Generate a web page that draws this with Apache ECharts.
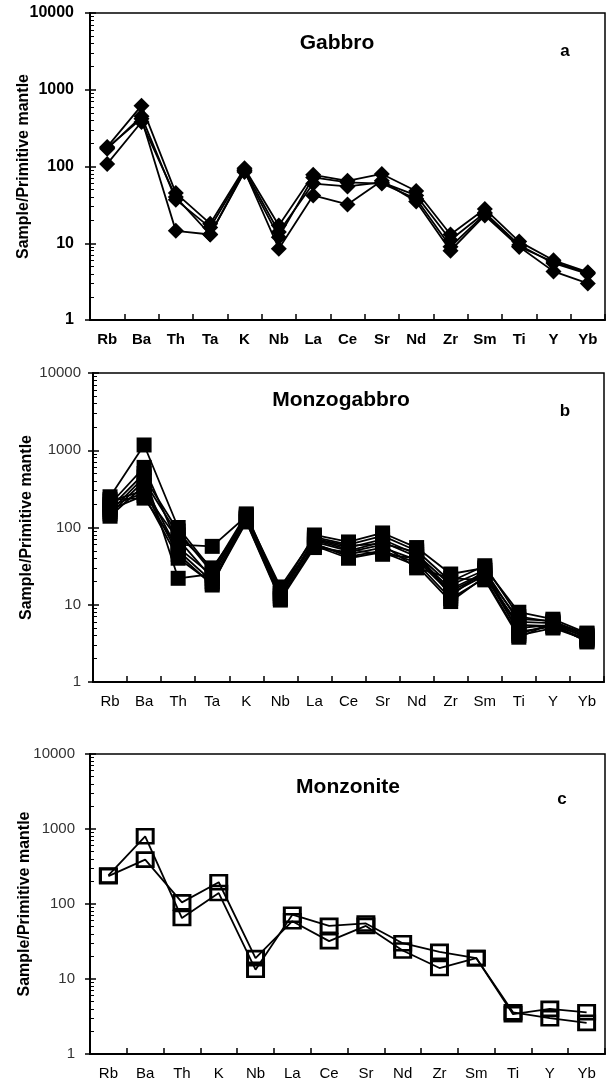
<!DOCTYPE html>
<html>
<head>
<meta charset="utf-8">
<script src="https://cdn.jsdelivr.net/npm/echarts@6/dist/echarts.min.js"></script>
<style>
  html, body { margin: 0; padding: 0; background: #fff; }
  #chart { width: 607px; height: 1080px; }
</style>
</head>
<body>
<div id="chart"></div>
<script>
// Element order on the spider diagrams
const elementsAB = ['Rb', 'Ba', 'Th', 'Ta', 'K', 'Nb', 'La', 'Ce', 'Sr', 'Nd', 'Zr', 'Sm', 'Ti', 'Y', 'Yb'];
const elementsC  = ['Rb', 'Ba', 'Th', 'K', 'Nb', 'La', 'Ce', 'Sr', 'Nd', 'Zr', 'Sm', 'Ti', 'Y', 'Yb'];
const yTickLabels = ['1', '10', '100', '1000', '10000'];

// (a) Gabbro samples, normalised to primitive mantle
const gabbro1 = [180, 620, 45, 18, 95, 17, 78, 65, 80, 48, 13, 28, 10.5, 6.0, 4.2];
const gabbro2 = [170, 450, 37, 16, 90, 14, 60, 55, 62, 42, 11, 25, 9.5, 5.5, 4.0];
const gabbro3 = [108, 380, 40, 13, 85, 12, 72, 62, 60, 38, 9, 24, 9.0, 5.7, 4.1];
const gabbro4 = [175, 420, 14.5, 13, 88, 8.5, 42, 32, 65, 35, 8, 23, 9.0, 4.3, 3.0];

// (b) Monzogabbro samples
const monzogabbro1  = [250, 1170, 100, 28, 150, 15, 80, 65, 85, 55, 25, 30, 8.0, 6.5, 4.3];
const monzogabbro2  = [200, 600, 60, 57, 140, 17, 75, 60, 78, 50, 20, 32, 7.0, 6.0, 4.2];
const monzogabbro3  = [180, 500, 22, 25, 130, 14, 70, 55, 70, 45, 18, 28, 6.0, 5.8, 4.0];
const monzogabbro4  = [150, 400, 80, 30, 125, 13, 65, 50, 65, 42, 16, 26, 5.0, 5.5, 3.8];
const monzogabbro5  = [140, 350, 50, 20, 120, 12, 60, 45, 55, 38, 14, 24, 4.5, 5.2, 3.6];
const monzogabbro6  = [220, 300, 45, 18, 135, 16, 62, 42, 50, 35, 12, 22, 4.0, 5.0, 3.5];
const monzogabbro7  = [190, 280, 70, 22, 128, 12, 58, 40, 48, 32, 11, 23, 5.5, 5.3, 3.4];
const monzogabbro8  = [170, 260, 40, 19, 118, 11.5, 55, 48, 60, 30, 22, 21, 3.8, 5.8, 3.7];
const monzogabbro9  = [230, 240, 55, 24, 145, 14, 68, 52, 45, 40, 15, 25, 6.5, 6.2, 3.9];
const monzogabbro10 = [160, 450, 90, 26, 132, 13, 72, 58, 62, 48, 13, 28, 4.2, 5.6, 3.3];

// (c) Monzonite samples
const monzonite1 = [240, 800, 65, 140, 13.3, 72, 51, 55, 30, 23, 19, 3.4, 4.0, 3.6];
const monzonite2 = [235, 390, 105, 195, 19, 59, 32, 51, 24, 14, 19, 3.6, 3.0, 2.6];

const FONT = 'Arial, "Liberation Sans", sans-serif';

const panels = [
  { grid: { left: 90, top: 13, right: 2, height: 307 }, cats: elementsAB,
    tickFont: { fontSize: 16, fontWeight: 'bold', color: '#000', margin: 16 },
    catFont: { fontSize: 15, fontWeight: 'bold', color: '#000' },
    nameGap: 58,
    series: [gabbro1, gabbro2, gabbro3, gabbro4],
    symbol: { symbol: 'diamond', symbolSize: 16, itemStyle: { color: '#000' } } },
  { grid: { left: 93, top: 373, right: 3, height: 309 }, cats: elementsAB,
    tickFont: { fontSize: 15, fontWeight: 'normal', color: '#333', margin: 12 },
    catFont: { fontSize: 15, fontWeight: 'normal', color: '#000' },
    nameGap: 58,
    series: [monzogabbro1, monzogabbro2, monzogabbro3, monzogabbro4, monzogabbro5,
             monzogabbro6, monzogabbro7, monzogabbro8, monzogabbro9, monzogabbro10],
    symbol: { symbol: 'rect', symbolSize: 15, itemStyle: { color: '#000' } } },
  { grid: { left: 90, top: 754, right: 2, height: 300 }, cats: elementsC,
    tickFont: { fontSize: 15, fontWeight: 'normal', color: '#333', margin: 15 },
    catFont: { fontSize: 15, fontWeight: 'normal', color: '#000' },
    nameGap: 57,
    series: [monzonite1, monzonite2],
    symbol: { symbol: 'rect', symbolSize: [16, 14],
              itemStyle: { color: 'rgba(255,255,255,0)', borderColor: '#000', borderWidth: 2.8 } } }
];

const grids = [], xAxes = [], yAxes = [], series = [];
panels.forEach((p, i) => {
  grids.push(Object.assign({
    show: true, borderColor: '#000', borderWidth: 1.5, backgroundColor: 'transparent',
    containLabel: false, outerBoundsMode: 'none'
  }, p.grid));
  xAxes.push({
    type: 'category', gridIndex: i, data: p.cats, boundaryGap: true,
    axisLine: { lineStyle: { color: '#000', width: 2 } },
    axisTick: { show: true, inside: true, length: 6, lineStyle: { color: '#000', width: 1.5 } },
    axisLabel: Object.assign({ interval: 0, margin: 12, fontFamily: FONT }, p.catFont),
    splitLine: { show: false }
  });
  // labelled log axis with outward major ticks
  yAxes.push({
    type: 'log', logBase: 10, min: 1, max: 10000, gridIndex: i, position: 'left',
    axisLine: { show: true, lineStyle: { color: '#000', width: 2 } },
    axisTick: { show: true, inside: false, length: 5, lineStyle: { color: '#000', width: 1.5 } },
    axisLabel: Object.assign({ fontFamily: FONT,
      formatter: v => yTickLabels.find(t => Math.abs(Number(t) - v) / Number(t) < 1e-6) || '' }, p.tickFont),
    splitLine: { show: false },
    name: 'Sample/Primitive mantle', nameLocation: 'middle', nameRotate: 90, nameGap: p.nameGap,
    nameMoveOverlap: false,
    nameTextStyle: { fontSize: 16, fontWeight: 'bold', color: '#000', fontFamily: FONT }
  });
  // companion axis carrying the inward major and minor ticks
  yAxes.push({
    type: 'log', logBase: 10, min: 1, max: 10000, gridIndex: i, position: 'left',
    axisLine: { show: false },
    axisTick: { show: true, inside: true, length: 6, lineStyle: { color: '#000', width: 1.5 } },
    minorTick: { show: true, splitNumber: 9, length: 4, lineStyle: { color: '#000', width: 1 } },
    axisLabel: { show: false },
    splitLine: { show: false }
  });
  p.series.forEach(values => {
    series.push(Object.assign({
      type: 'line', xAxisIndex: i, yAxisIndex: i * 2, data: values,
      lineStyle: { color: '#000', width: 1.8 },
      showAllSymbol: true, animation: false, z: 3
    }, p.symbol));
  });
});

const textStyle = (text, x, y, size) => ({
  type: 'text', x, y,
  style: { text, fill: '#000', font: 'bold ' + size + 'px ' + FONT, align: 'center', verticalAlign: 'middle' }
});

const chart = echarts.init(document.getElementById('chart'), null, { renderer: 'canvas' });
chart.setOption({
  animation: false,
  backgroundColor: '#fff',
  grid: grids,
  xAxis: xAxes,
  yAxis: yAxes,
  series: series,
  graphic: [
    textStyle('Gabbro', 337, 43, 21),
    textStyle('a', 565, 51, 17),
    textStyle('Monzogabbro', 341, 400, 21),
    textStyle('b', 565, 411, 17),
    textStyle('Monzonite', 348, 787, 21),
    textStyle('c', 562, 799, 17)
  ]
});
</script>
</body>
</html>
